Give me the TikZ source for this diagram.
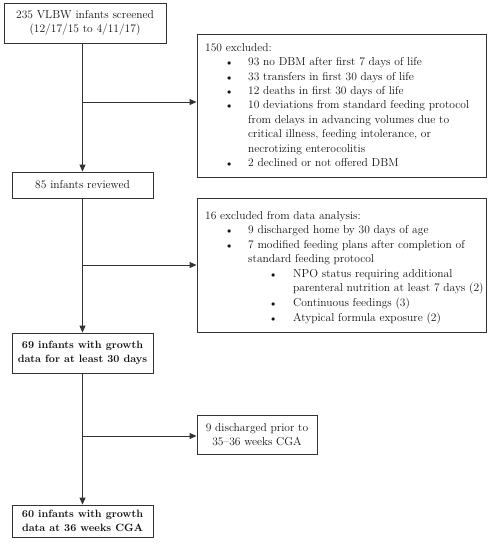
\documentclass[tikz,border=0pt]{standalone}
\usetikzlibrary{arrows.meta}
\definecolor{ln}{HTML}{333333}
\definecolor{tx}{HTML}{111111}
\tikzset{
  box/.style={draw=ln, line width=0.9pt, inner sep=0pt, align=center, text=tx,
    font=\fontsize{11.5}{14.4}\selectfont},
  boldbox/.style={box, font=\fontsize{10.6}{14.4}\selectfont\bfseries},
  conn/.style={draw=ln, line width=0.9pt},
  arr/.style={conn, -{Triangle[length=7pt,width=6pt]}},
  lst/.style={inner sep=0pt, anchor=north west, align=left, text=tx,
    font=\fontsize{11.5}{14.4}\selectfont},
}
\newcommand{\myb}{\hspace*{22pt}\makebox[21pt][l]{$\scriptstyle\bullet$}}
\newcommand{\mysb}{\hspace*{66pt}\makebox[22pt][l]{$\scriptstyle\bullet$}}
\newcommand{\mycnt}{\hspace*{43pt}}
\newcommand{\myscnt}{\hspace*{88pt}}
\begin{document}
\begin{tikzpicture}[x=1pt,y=-1pt]
\useasboundingbox (0,0) rectangle (492,550);
% left column
\node[box, minimum width=162pt, minimum height=40pt] (b1) at (85,23)
  {235 VLBW infants screened\\(12/17/15 to 4/11/17)};
\node[box, minimum width=141pt, minimum height=26pt] (b85) at (82.5,185)
  {85 infants reviewed};
\node[boldbox, minimum width=141pt, minimum height=40pt] (b69) at (82.5,353)
  {69 infants with growth\\data for at least 30 days};
\node[boldbox, minimum width=141pt, minimum height=32pt] (b60) at (82.5,521)
  {60 infants with growth\\data at 36 weeks CGA};
% right column
\node[box, minimum width=289pt, minimum height=143pt] (e150) at (341.5,105.5) {};
\node[box, minimum width=289pt, minimum height=134pt] (e16) at (341.5,265) {};
\node[box, minimum width=120pt, minimum height=39pt] (e9) at (257,434.5)
  {9 discharged prior to\\35--36 weeks CGA};
% list texts
\node[lst] (t150) at (205,43.2) {150 excluded:\\
\myb 93 no DBM after first 7 days of life\\
\myb 33 transfers in first 30 days of life\\
\myb 12 deaths in first 30 days of life\\
\myb 10 deviations from standard feeding protocol\\
\mycnt from delays in advancing volumes due to\\
\mycnt critical illness, feeding intolerance, or\\
\mycnt necrotizing enterocolitis\\
\myb 2 declined or not offered DBM};
\node[lst] (t16) at (205,211.2) {16 excluded from data analysis:\\
\myb 9 discharged home by 30 days of age\\
\myb 7 modified feeding plans after completion of\\
\mycnt standard feeding protocol\\
\mysb NPO status requiring additional\\
\myscnt parenteral nutrition at least 7 days (2)\\[0.6pt]
\mysb Continuous feedings (3)\\[1pt]
\mysb Atypical formula exposure (2)};
% connectors
\coordinate (j1) at (82.5,102);
\coordinate (j2) at (82.5,265);
\coordinate (j3) at (82.5,436);
\draw[arr] (b85.north |- b1.south) -- (b85.north);
\draw[arr] (j1) -- (j1 -| e150.west);
\draw[arr] (b85.south) -- (b69.north);
\draw[arr] (j2) -- (j2 -| e16.west);
\draw[arr] (b69.south) -- (b60.north);
\draw[arr] (j3) -- (j3 -| e9.west);
\end{tikzpicture}
\end{document}
